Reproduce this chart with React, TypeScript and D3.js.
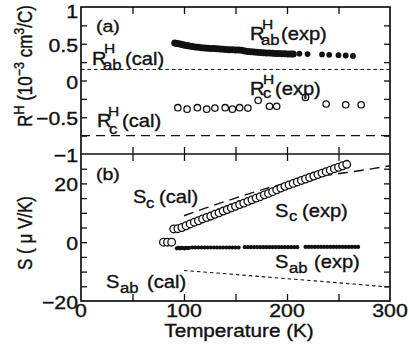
import { useEffect, useRef } from 'react';
import * as d3 from 'd3';

// (a) Hall coefficient, 10^-3 cm^3/C
const rAbDenseT = [91, 93, 95, 97, 99, 101, 103, 105, 108, 111, 114, 117, 120, 123, 126, 129, 132, 135, 138, 141, 144, 147, 150, 153, 156, 159, 162, 165, 168, 171, 174, 177, 180, 183, 186, 189, 192, 195, 198, 201, 204, 206];
const rAbDenseV = [0.51, 0.505, 0.5, 0.492, 0.485, 0.48, 0.475, 0.47, 0.463, 0.457, 0.452, 0.447, 0.443, 0.44, 0.437, 0.434, 0.431, 0.428, 0.425, 0.422, 0.42, 0.418, 0.416, 0.414, 0.41, 0.403, 0.396, 0.39, 0.387, 0.384, 0.381, 0.378, 0.375, 0.373, 0.371, 0.369, 0.367, 0.365, 0.363, 0.362, 0.361, 0.36];
const rAbSparseT = [212, 220, 234, 241, 250, 257, 264];
const rAbSparseV = [0.365, 0.36, 0.355, 0.35, 0.345, 0.34, 0.335];
const rCT = [94, 103, 113, 122, 130, 140, 147, 154, 162, 172, 183, 190, 218, 238, 257, 272];
const rCV = [-0.37, -0.39, -0.37, -0.39, -0.375, -0.37, -0.39, -0.37, -0.375, -0.27, -0.35, -0.35, -0.23, -0.32, -0.33, -0.33];
const rAbCalT = [0, 300];
const rAbCalV = [0.15, 0.15];
const rCCalT = [0, 300];
const rCCalV = [-0.75, -0.75];

// (b) thermopower, uV/K
const sCLowT = [80, 84, 88];
const sCLowV = [0, 0, 0];
const sCT = [90, 94, 98, 102, 106, 110, 114, 118, 122, 126, 130, 134, 138, 142, 146, 150, 154, 158, 162, 166, 170, 174, 178, 182, 186, 190, 194, 198, 202, 206, 210, 214, 218, 222, 226, 230, 234, 238, 242, 246, 250, 254, 258];
const sCV = [4.5, 4.6, 5.0, 5.6, 6.2, 6.8, 7.3, 7.9, 8.4, 8.9, 9.5, 10.0, 10.6, 11.1, 11.7, 12.2, 12.8, 13.3, 13.9, 14.4, 15.0, 15.5, 16.1, 16.6, 17.2, 17.8, 18.4, 19.0, 19.5, 20.0, 20.5, 21.0, 21.5, 22.0, 22.5, 23.0, 23.5, 24.0, 24.5, 25.0, 25.5, 26.0, 26.5];
const sAbT = [93, 94.5, 96, 97.5, 99, 100.5, 102, 103.5, 105, 108, 111, 114, 117, 120, 123, 126, 129, 132, 135, 138, 141, 144, 147, 150, 153, 159, 162, 165, 168, 171, 174, 177, 180, 183, 186, 189, 192, 195, 198, 201, 204, 207, 210, 218, 221, 224, 227, 230, 233, 236, 239, 242, 245, 248, 251, 254, 257, 260, 263, 266, 269];
const sAbV = [-2.1, -1.9, -2.1, -1.9, -2.0, -2.1, -1.9, -2.0, -1.9, -1.8, -1.8, -1.8, -1.8, -1.8, -1.8, -1.8, -1.8, -1.8, -1.8, -1.8, -1.8, -1.8, -1.8, -1.8, -1.8, -1.7, -1.7, -1.7, -1.7, -1.7, -1.7, -1.7, -1.7, -1.7, -1.7, -1.7, -1.7, -1.7, -1.7, -1.7, -1.7, -1.7, -1.7, -1.6, -1.6, -1.6, -1.6, -1.6, -1.6, -1.6, -1.6, -1.6, -1.6, -1.6, -1.6, -1.6, -1.6, -1.6, -1.6, -1.6, -1.6];
const sCCalT = [100, 120, 150, 180, 210, 240, 270, 300];
const sCCalV = [9, 11.5, 15, 18.3, 21, 22.8, 24.3, 26];
const sAbCalT = [100, 150, 200, 250, 300];
const sAbCalV = [-9.6, -11.0, -12.4, -13.8, -15.3];

const xTickLabels = [0, 100, 200, 300];
const xMinorTicks = [50, 100, 150, 200, 250];
const rTickLabels = [1, 0.5, 0, -0.5, -1];
const rMinorTicks = [-0.75, -0.5, -0.25, 0, 0.25, 0.5, 0.75];
const sTickLabels = [20, 0, -20];
const sMinorTicks = [-15, -10, -5, 0, 5, 10, 15, 20, 25];

const W = 409;
const H = 350;
const FONT = '"Liberation Sans", Arial, Helvetica, sans-serif';
const STRETCH = 1.15;

type Piece = [string, number, number, number];

export default function App() {
  const svgRef = useRef<SVGSVGElement>(null);

  useEffect(() => {
    if (!svgRef.current) return;
    const svg = d3.select(svgRef.current);
    svg.selectAll('*').remove();

    const left = 81, right = 390, top = 7, mid = 154, bottom = 301;

    const x = d3.scaleLinear().domain([0, 300]).range([left, right]);
    const yR = d3.scaleLinear().domain([-1, 1]).range([mid, top]);
    const yS = d3.scaleLinear().domain([-20, 30]).range([bottom, mid]);

    const g = svg.append('g')
      .attr('font-family', FONT)
      .attr('fill', '#111');

    const zip = (t: number[], v: number[]) => t.map((d, i) => [d, v[i]] as [number, number]);

    // scanned figure is a bit wider than tall, so stretch glyphs horizontally
    const txt = (px: number, py: number, s: string, fs: number, anchor = 'start') =>
      g.append('text')
        .attr('transform', `translate(${px},${py}) scale(${STRETCH},1)`)
        .attr('font-size', fs)
        .attr('text-anchor', anchor)
        .attr('stroke', '#111')
        .attr('stroke-width', 0.35)
        .text(s);

    // reference lines
    const lineR = d3.line<[number, number]>().x((d) => x(d[0])).y((d) => yR(d[1]));
    const lineS = d3.line<[number, number]>().x((d) => x(d[0])).y((d) => yS(d[1])).curve(d3.curveMonotoneX);

    g.append('path').datum(zip(rAbCalT, rAbCalV)).attr('d', lineR)
      .attr('fill', 'none').attr('stroke', '#111').attr('stroke-width', 1.2).attr('stroke-dasharray', '3.5,3');
    g.append('path').datum(zip(rCCalT, rCCalV)).attr('d', lineR)
      .attr('fill', 'none').attr('stroke', '#111').attr('stroke-width', 1.4).attr('stroke-dasharray', '9,6');
    g.append('path').datum(zip(sCCalT, sCCalV)).attr('d', lineS)
      .attr('fill', 'none').attr('stroke', '#111').attr('stroke-width', 1.4).attr('stroke-dasharray', '10,6');
    g.append('path').datum(zip(sAbCalT, sAbCalV)).attr('d', lineS)
      .attr('fill', 'none').attr('stroke', '#111').attr('stroke-width', 1.1).attr('stroke-dasharray', '3.5,3');

    // measured points
    const dots = (data: [number, number][], y: d3.ScaleLinear<number, number>, r: number, open: boolean) => {
      g.append('g').selectAll('circle').data(data).enter().append('circle')
        .attr('cx', (d) => x(d[0]))
        .attr('cy', (d) => y(d[1]))
        .attr('r', r)
        .attr('fill', open ? '#fff' : '#111')
        .attr('stroke', '#111')
        .attr('stroke-width', open ? 1.3 : 0);
    };
    dots(zip(rAbDenseT, rAbDenseV), yR, 3.5, false);
    dots(zip(rAbSparseT, rAbSparseV), yR, 2.9, false);
    dots(zip(rCT, rCV), yR, 3.2, true);
    dots(zip(sAbT, sAbV), yS, 2.1, false);
    dots(zip(sCLowT, sCLowV), yS, 3.8, true);
    dots(zip(sCT, sCV), yS, 3.8, true);

    // frame
    g.append('rect').attr('x', left).attr('y', top).attr('width', right - left).attr('height', bottom - top)
      .attr('fill', 'none').attr('stroke', '#111').attr('stroke-width', 1.7);
    g.append('line').attr('x1', left).attr('x2', right).attr('y1', mid).attr('y2', mid)
      .attr('stroke', '#111').attr('stroke-width', 1.7);

    // inward ticks
    const tickGroup = (tr: string, axis: d3.Axis<d3.NumberValue>) => {
      const a = g.append('g').attr('transform', tr).call(axis);
      a.select('.domain').remove();
      a.selectAll('text').remove();
      a.selectAll('line').attr('stroke', '#111').attr('stroke-width', 1.3);
    };
    const noLab = () => '';
    tickGroup(`translate(0,${bottom})`, d3.axisTop(x).tickValues(xMinorTicks).tickSize(7).tickFormat(noLab));
    tickGroup(`translate(0,${top})`, d3.axisBottom(x).tickValues(xMinorTicks).tickSize(7).tickFormat(noLab));
    tickGroup(`translate(0,${mid})`, d3.axisTop(x).tickValues(xMinorTicks).tickSize(7).tickFormat(noLab));
    tickGroup(`translate(0,${mid})`, d3.axisBottom(x).tickValues(xMinorTicks).tickSize(7).tickFormat(noLab));
    tickGroup(`translate(${left},0)`, d3.axisRight(yR).tickValues(rMinorTicks).tickSize(6).tickFormat(noLab));
    tickGroup(`translate(${right},0)`, d3.axisLeft(yR).tickValues(rMinorTicks).tickSize(6).tickFormat(noLab));
    tickGroup(`translate(${left},0)`, d3.axisRight(yS).tickValues(sMinorTicks).tickSize(6).tickFormat(noLab));
    tickGroup(`translate(${right},0)`, d3.axisLeft(yS).tickValues(sMinorTicks).tickSize(6).tickFormat(noLab));

    // tick labels
    const fmt = (v: number) => (v < 0 ? '\u2212' + String(-v) : String(v));
    xTickLabels.forEach((v) => txt(x(v), 317, fmt(v), 18.5, 'middle'));
    rTickLabels.forEach((v) => txt(78, Math.max(yR(v), 10) + 8, fmt(v), 18.5, 'end'));
    sTickLabels.forEach((v) => txt(78, yS(v) + 8, fmt(v), 18.5, 'end'));

    // axis titles
    txt(239, 337, 'Temperature (K)', 18, 'middle');

    const vt = g.append('text')
      .attr('transform', `translate(32,66) rotate(-90) scale(1,${STRETCH})`)
      .attr('font-size', 17)
      .attr('stroke', '#111')
      .attr('stroke-width', 0.35)
      .attr('text-anchor', 'middle');
    vt.append('tspan').text('R');
    vt.append('tspan').attr('font-size', 12.5).attr('dy', -7).text('H');
    vt.append('tspan').attr('dy', 7).text(' (10');
    vt.append('tspan').attr('font-size', 12.5).attr('dy', -7).text('\u22123');
    vt.append('tspan').attr('dy', 7).text(' cm');
    vt.append('tspan').attr('font-size', 12.5).attr('dy', -7).text('3');
    vt.append('tspan').attr('dy', 7).text('/C)');

    g.append('text')
      .attr('transform', `translate(32,233) rotate(-90) scale(1,${STRETCH})`)
      .attr('font-size', 17)
      .attr('stroke', '#111')
      .attr('stroke-width', 0.35)
      .attr('text-anchor', 'middle')
      .text('S ( \u03bc V/K)');

    // annotations: [text, x, baseline, size]
    const notes: Piece[][] = [
      [['(a)', 96, 32, 17]],
      [['(b)', 96, 180, 17]],
      [['R', 92, 65, 17.5], ['H', 104, 53, 13.5], ['ab', 103, 70, 14.5], ['(cal)', 125, 65, 17.5]],
      [['R', 97, 127, 17.5], ['H', 108, 116, 13.5], ['c', 109, 134, 14.5], ['(cal)', 122, 127, 17.5]],
      [['R', 250, 40, 17.5], ['H', 262, 29, 13.5], ['ab', 261, 45, 14.5], ['(exp)', 281, 40, 17.5]],
      [['R', 250, 95, 17.5], ['H', 263, 84, 13.5], ['c', 263, 98, 14.5], ['(exp)', 275, 95, 17.5]],
      [['S', 133, 203, 17.5], ['c', 146, 208, 14.5], ['(cal)', 159, 203, 17.5]],
      [['S', 275, 217, 17.5], ['c', 289, 221, 14.5], ['(exp)', 302, 217, 17.5]],
      [['S', 275, 268, 17.5], ['ab', 289, 273, 14.5], ['(exp)', 314, 268, 17.5]],
      [['S', 106, 288, 17.5], ['ab', 120, 293, 14.5], ['(cal)', 147, 288, 17.5]],
    ];
    notes.forEach((pieces) => pieces.forEach(([s, px, py, fs]) => txt(px, py, s, fs)));
  }, []);

  return (
    <svg
      ref={svgRef}
      width={W}
      height={H}
      viewBox={`0 0 ${W} ${H}`}
      style={{ position: 'absolute', left: 0, top: 0, background: '#fff' }}
    />
  );
}
